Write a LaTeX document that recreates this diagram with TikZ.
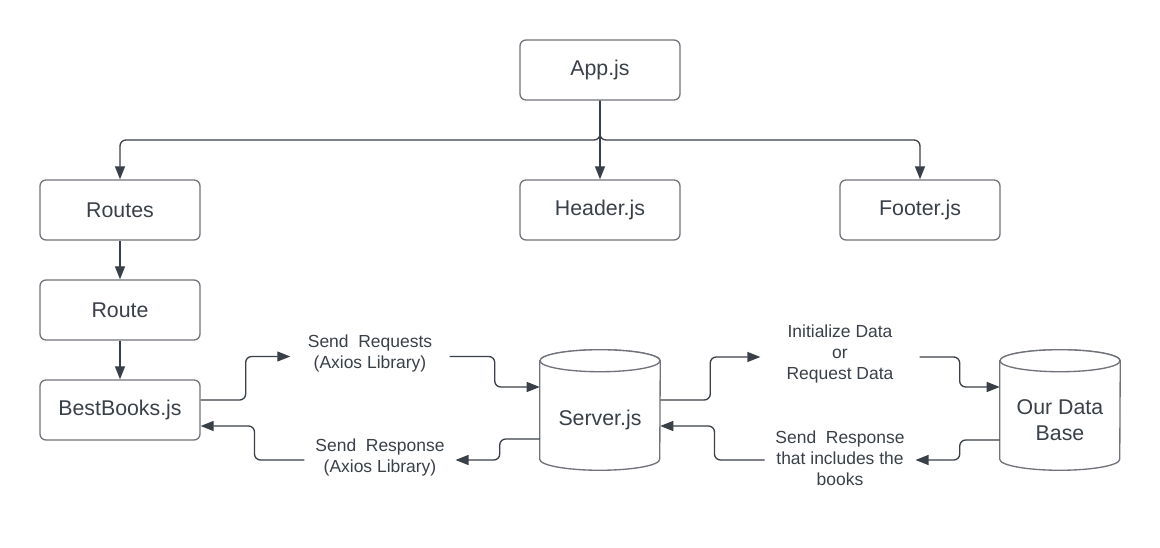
\documentclass[tikz,border=0pt]{standalone}
\usepackage{fontspec}
\setmainfont{Liberation Sans}
\usetikzlibrary{arrows.meta,calc}
\definecolor{txt}{HTML}{3A4048}
\definecolor{linec}{HTML}{3A4048}
\definecolor{boxc}{HTML}{707379}
\tikzset{
  box/.style={draw=boxc,line width=1pt,rounded corners=4.5pt,minimum width=120pt,minimum height=45pt,
    font=\fontsize{16}{19.5}\selectfont,text=txt,align=center},
  cylnode/.style={minimum width=90pt,minimum height=90pt,inner sep=0pt},
  cylline/.style={draw=boxc,line width=1pt,fill=white},
  cyltext/.style={font=\fontsize{16}{19.5}\selectfont,text=txt,align=center},
  lbl/.style={font=\fontsize{13.1}{15.75}\selectfont,text=txt,align=center,inner ysep=0pt},
  conn/.style={draw=linec,line width=1pt,rounded corners=4.5pt,-{Triangle[length=9.75pt,width=7.5pt]}}
}
\begin{document}
\begin{tikzpicture}[x=0.75pt,y=0.75pt,yscale=-1]
\useasboundingbox (0,0) rectangle (1160,548);
% boxes
\node[box] (app) at (600,70) {App.js};
\node[box] (routes) at (120,210) {Routes};
\node[box] (header) at (600,210) {Header.js};
\node[box] (footer) at (920,210) {Footer.js};
\node[box] (route) at (120,310) {Route};
\node[box] (bb) at (120,410) {BestBooks.js};
% cylinders
\node[cylnode] (srv) at (600,410) {};
\node[cylnode] (db) at (1060,410) {};
\foreach \c in {srv,db}{
  \draw[cylline] ($(\c.north west)+(0,11)$) -- ($(\c.south west)+(0,-11)$)
    arc[start angle=180,end angle=0,x radius=45pt,y radius=8.25pt]
    -- ($(\c.north east)+(0,11)$)
    arc[start angle=0,end angle=-180,x radius=45pt,y radius=8.25pt] -- cycle;
  \draw[cylline] ($(\c.north)+(0,11)$) ellipse[x radius=45pt,y radius=8.25pt];
}
\node[cyltext] (srvt) at (600,420) {Server.js};
\node[cyltext] (dbt) at (1060,420) {Our Data\\Base};
% labels
\node[lbl,inner xsep=13pt] (req) at (370,353.5) {Send~ Requests\\(Axios Library)};
\node[lbl,inner xsep=8pt] (resp1) at (380,457.5) {Send~ Response\\(Axios Library)};
\node[lbl,inner xsep=19.5pt] (init) at (840,354) {Initialize Data\\or\\Request Data};
\node[lbl,inner xsep=8pt] (resp2) at (840,458) {Send~ Response\\that includes the\\books};
% tree connectors
\coordinate (br) at (600,140);
\draw[conn] (app.south) -- (br) -| (routes.north);
\draw[conn] (app.south) -- (header.north);
\draw[conn] (app.south) -- (br) -| (footer.north);
\draw[conn] (routes.south) -- (route.north);
\draw[conn] (route.south) -- (bb.north);
% flow connectors
\draw[conn] ($(bb.east)+(0,-10)$) -- ++(45,0) |- ($(req.west)+(0,3)$);
\draw[conn] ($(req.east)+(0,3)$) -- ++(45,0) |- ($(srv.west)+(0,-23)$);
\draw[conn] ($(srv.west)+(0,29)$) -- ++(-40,0) |- ($(resp1.east)+(0,2.5)$);
\draw[conn] ($(resp1.west)+(0,2.5)$) -- ++(-50,0) |- ($(bb.east)+(0,16)$);
\draw[conn] ($(srv.east)+(0,-10)$) -- ++(50,0) |- ($(init.west)+(0,3)$);
\draw[conn] ($(init.east)+(0,3)$) -- ++(40,0) |- ($(db.west)+(0,-23)$);
\draw[conn] ($(db.west)+(0,30)$) -- ++(-40,0) |- ($(resp2.east)+(0,2)$);
\draw[conn] ($(resp2.west)+(0,2)$) -- ++(-50,0) |- ($(srv.east)+(0,16)$);
\end{tikzpicture}
\end{document}
